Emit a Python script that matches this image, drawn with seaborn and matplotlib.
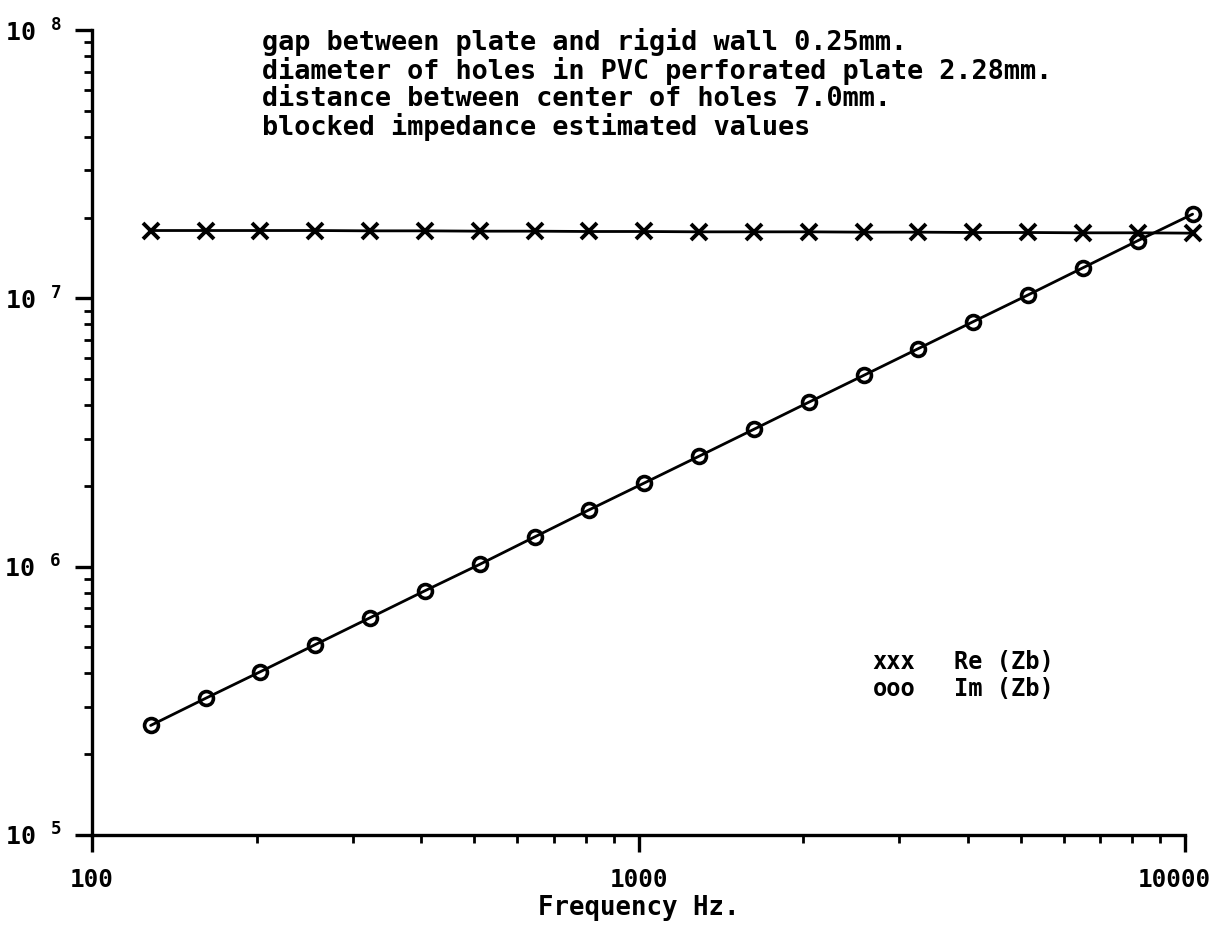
import matplotlib
matplotlib.use("Agg")
import matplotlib.pyplot as plt
import matplotlib.ticker as mticker
import matplotlib.transforms as mtransforms
import numpy as np
import pandas as pd
import seaborn as sns

# third-octave centre frequencies (base-2 series), Hz
freq = [128, 161.3, 203.2, 256, 322.5, 406.4, 512, 645.1, 812.7, 1024,
        1290, 1625, 2048, 2580, 3251, 4096, 5161, 6502, 8192, 10321]
# real part of the blocked impedance
re_zb = [1.79e7, 1.79e7, 1.79e7, 1.79e7, 1.785e7, 1.785e7, 1.78e7, 1.78e7, 1.775e7, 1.775e7,
         1.77e7, 1.77e7, 1.77e7, 1.765e7, 1.765e7, 1.76e7, 1.76e7, 1.755e7, 1.755e7, 1.75e7]
# imaginary part of the blocked impedance
im_zb = [2.56e5, 3.23e5, 4.06e5, 5.12e5, 6.45e5, 8.13e5, 1.02e6, 1.29e6, 1.63e6, 2.05e6,
         2.58e6, 3.25e6, 4.10e6, 5.16e6, 6.50e6, 8.19e6, 1.03e7, 1.30e7, 1.64e7, 2.06e7]

notes = [
    "gap between plate and rigid wall 0.25mm.",
    "diameter of holes in PVC perforated plate 2.28mm.",
    "distance between center of holes 7.0mm.",
    "blocked impedance estimated values",
]
legend_rows = [("xxx", "Re (Zb)"), ("ooo", "Im (Zb)")]

sns.set_theme(style="ticks")
plt.rcParams["font.family"] = ["DejaVu Sans Mono", "DejaVu Sans"]
plt.rcParams["font.weight"] = "bold"
plt.rcParams["axes.labelweight"] = "bold"
plt.rcParams["mathtext.default"] = "regular"

df = pd.DataFrame({"freq": freq, "re": re_zb, "im": im_zb})

fig = plt.figure(figsize=(12.19, 9.42), dpi=100)
ax = fig.add_axes([0.0755, 0.1136, 0.8967, 0.8545])

sns.lineplot(data=df, x="freq", y="re", ax=ax, color="black", linewidth=2.0,
             marker="x", markersize=11, markeredgewidth=2.8, markeredgecolor="black",
             clip_on=False)
sns.lineplot(data=df, x="freq", y="im", ax=ax, color="black", linewidth=2.0,
             marker="o", markersize=10, markeredgewidth=2.6, markerfacecolor="none",
             markeredgecolor="black", clip_on=False)

ax.set_xscale("log")
ax.set_yscale("log")
ax.set_xlim(100, 10000)
ax.set_ylim(1e5, 1e8)

for side in ["top", "right"]:
    ax.spines[side].set_visible(False)
for side in ["left", "bottom"]:
    ax.spines[side].set_linewidth(2.4)
    ax.spines[side].set_color("black")

ax.xaxis.set_major_locator(mticker.FixedLocator([100, 1000, 10000]))
ax.xaxis.set_major_formatter(mticker.FuncFormatter(lambda v, p: f"{int(round(v))}"))
ax.xaxis.set_minor_locator(mticker.LogLocator(base=10, subs=np.arange(2, 10)))
ax.xaxis.set_minor_formatter(mticker.NullFormatter())

ax.yaxis.set_major_locator(mticker.FixedLocator([1e5, 1e6, 1e7, 1e8]))
ax.yaxis.set_major_formatter(mticker.FuncFormatter(
    lambda v, p: "10 $^{%d}$" % int(round(np.log10(v)))))
ax.yaxis.set_minor_locator(mticker.LogLocator(base=10, subs=np.arange(2, 10)))
ax.yaxis.set_minor_formatter(mticker.NullFormatter())

ax.tick_params(which="major", direction="out", length=12, width=2.4, colors="black",
               labelsize=18)
ax.tick_params(axis="x", which="major", labelsize=17.5, pad=12)
ax.tick_params(which="minor", direction="out", length=6, width=2, colors="black")
ax.tick_params(axis="y", which="major", pad=10)

# the last x label sits on the figure edge, nudge it left a little
last = ax.xaxis.get_majorticklabels()[-1]
last.set_transform(last.get_transform() + mtransforms.ScaledTranslation(-8 / 72, 0, fig.dpi_scale_trans))

ax.set_xlabel("Frequency Hz.", fontsize=18.5, labelpad=2, color="black")
ax.set_ylabel("")

fig.text(0.215, 0.970, "\n".join(notes), ha="left", va="top", fontsize=19.4,
         linespacing=1.05, color="black")

for i, (sym, name) in enumerate(legend_rows):
    y = 1 - (662 + 27 * i) / 942
    fig.text(0.716, y, sym, ha="left", va="center", fontsize=17, color="black")
    fig.text(0.783, y, name, ha="left", va="center", fontsize=17, color="black")

fig.savefig("out.png", dpi=100)
